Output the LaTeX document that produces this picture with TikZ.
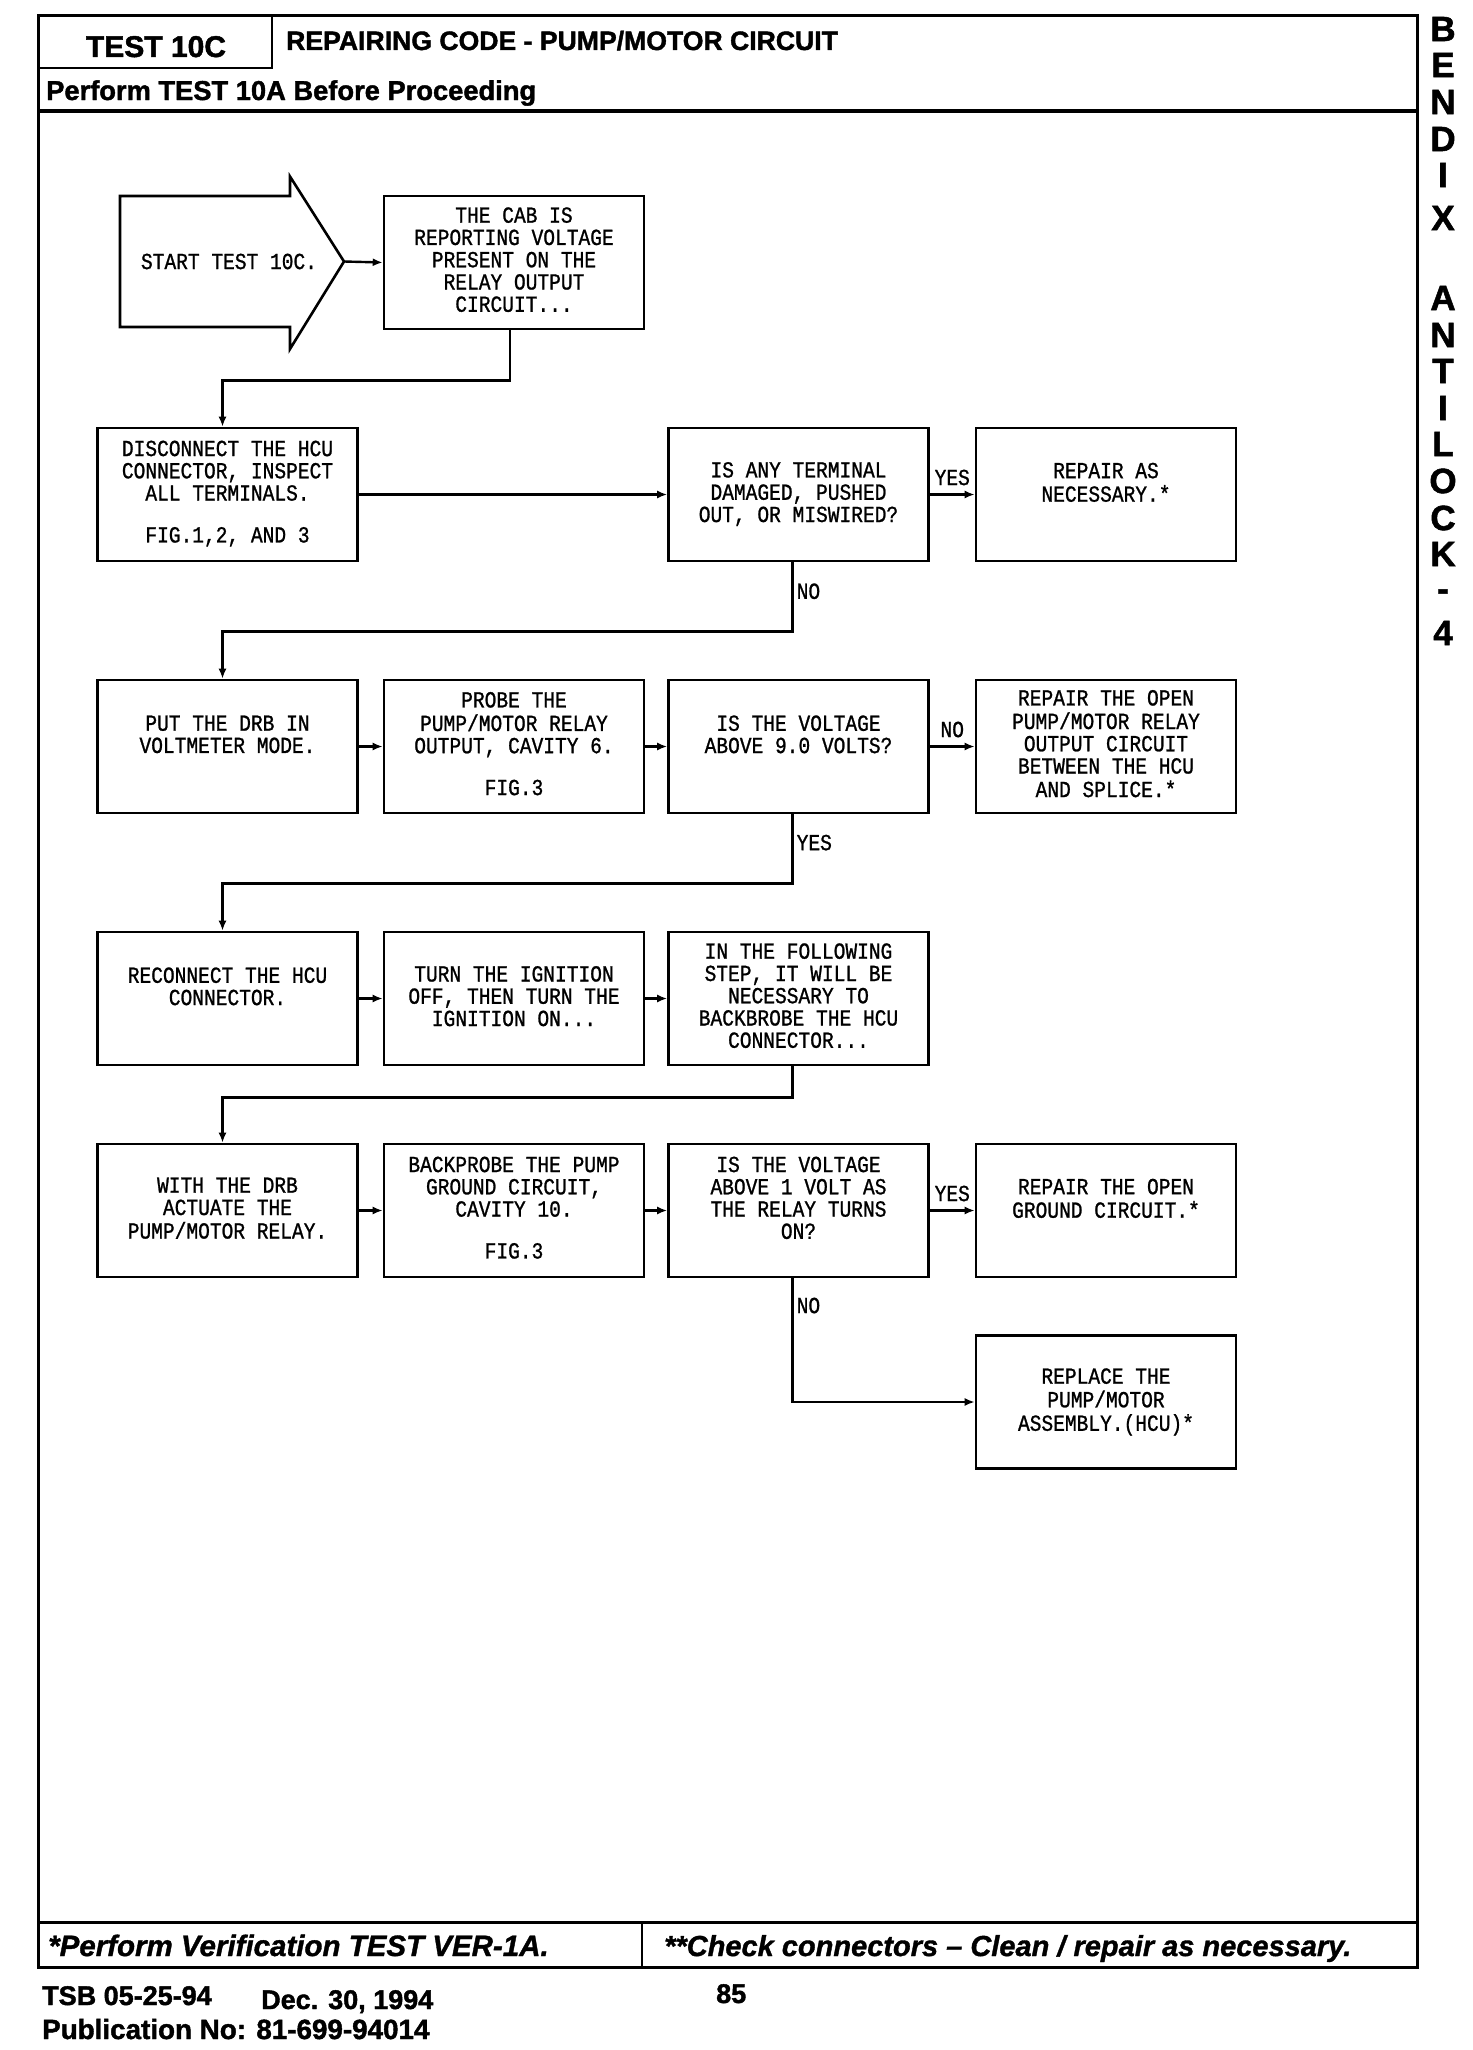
\documentclass[tikz,border=0pt]{standalone}
\usepackage{fontspec}
\setmainfont{Liberation Sans}
\newfontfamily\chartfont[FakeStretch=0.85,FakeBold=1]{Liberation Mono}
\newfontfamily\heavyfont[BoldFeatures={FakeBold=1.5},BoldItalicFeatures={FakeBold=1.2}]{Liberation Sans}
\usetikzlibrary{arrows.meta}
\begin{document}
\begin{tikzpicture}[x=1pt,y=-1pt,
  box/.style={draw, line width=2.6pt, minimum width=260pt, minimum height=133pt, inner sep=0pt, align=center, font=\chartfont\fontsize{23}{19.6}\selectfont},
  txt/.style={inner sep=0pt, align=center, font=\chartfont\fontsize{23}{19.6}\selectfont},
  lbl/.style={inner sep=3pt, font=\chartfont\fontsize{23}{19.6}\selectfont},
  arr/.style={line width=2.4pt, -{Latex[length=10pt,width=8pt]}},
  frameline/.style={line width=3pt},
  plain/.style={inner sep=0pt, anchor=base west},
  vlet/.style={inner sep=0pt, font=\heavyfont\bfseries\fontsize{35}{35}\selectfont},
]
\useasboundingbox (0,0) rectangle (1472,2050);
\fill[white] (0,0) rectangle (1472,2050);

% frame
\draw[frameline] (38,16) rectangle (1417,1967);
\draw[line width=3.5pt] (38,111) -- (1417,111);
\draw[line width=2.6pt] (272,16) -- (272,68) -- (38,68);
\draw[frameline] (38,1922) -- (1417,1922);
\draw[line width=2.6pt] (642,1922) -- (642,1967);

% header texts
\node[inner sep=0pt, anchor=base, font=\heavyfont\bfseries\fontsize{30}{30}\selectfont] (t10c) at (156,57) {TEST 10C};
\node[plain, font=\heavyfont\bfseries\fontsize{26.6}{26.6}\selectfont] (title) at (286,50) {REPAIRING CODE - PUMP/MOTOR CIRCUIT};
\node[plain, font=\heavyfont\bfseries\fontsize{27.3}{27.3}\selectfont] (pre) at (46,100) {Perform TEST 10A Before Proceeding};

% footer texts
\node[plain, font=\heavyfont\bfseries\itshape\fontsize{29.5}{29.5}\selectfont] (f1) at (48,1956) {*Perform Verification TEST VER-1A.};
\node[plain, font=\heavyfont\bfseries\itshape\fontsize{29}{29}\selectfont] (f2) at (664,1956) {**Check connectors – Clean / repair as necessary.};
\node[plain, font=\heavyfont\bfseries\fontsize{27}{27}\selectfont] (tsb) at (42,2005) {TSB 05-25-94};
\node[plain, font=\heavyfont\bfseries\fontsize{27}{27}\selectfont] (date) at (261,2009) {Dec. 30, 1994};
\node[plain, font=\heavyfont\bfseries\fontsize{27}{27}\selectfont] (page) at (716,2003) {85};
\node[plain, font=\heavyfont\bfseries\fontsize{27.8}{27.8}\selectfont] (pub) at (42,2039) {Publication No: 81-699-94014};

% vertical side title
\node[vlet] (v1) at (1443,29) {B};
\node[vlet] (v2) at (1443,65) {E};
\node[vlet] (v3) at (1443,102) {N};
\node[vlet] (v4) at (1443,139) {D};
\node[vlet] (v5) at (1443,175) {I};
\node[vlet] (v6) at (1443,218) {X};
\node[vlet] (v7) at (1443,298) {A};
\node[vlet] (v8) at (1443,335) {N};
\node[vlet] (v9) at (1443,371) {T};
\node[vlet] (v10) at (1443,408) {I};
\node[vlet] (v11) at (1443,444) {L};
\node[vlet] (v12) at (1443,481) {O};
\node[vlet] (v13) at (1443,518) {C};
\node[vlet] (v14) at (1443,554) {K};
\node[vlet] (v15) at (1443,595) {-};
\node[vlet] (v16) at (1443,633) {4};

% start arrow
\draw[line width=2.6pt, line join=miter] (120,196) -- (290,196) -- (290,176.5) -- (344,261.5) -- (290,349) -- (290,327) -- (120,327) -- cycle;
\node[txt] (start) at (229,261.5) {START TEST 10C.};
\coordinate (starttip) at (344,261.5);

% boxes
\node[box] (cab) at (514,262.5) {\strut THE CAB IS\\\strut REPORTING VOLTAGE\\\strut PRESENT ON THE\\\strut RELAY OUTPUT\\\strut CIRCUIT...};

\node[box] (disc) at (227.5,494.5) {\strut DISCONNECT THE HCU\\\strut CONNECTOR, INSPECT\\\strut ALL TERMINALS.\\\strut\\\strut FIG.1,2, AND 3};
\node[box] (isany) at (798.5,494.5) {\strut\\\strut IS ANY TERMINAL\\\strut DAMAGED, PUSHED\\\strut OUT, OR MISWIRED?\\\strut};
\node[box] (rep1) at (1106,494.5) {\strut\\\strut REPAIR AS\\\strut NECESSARY.*\\\strut\\\strut};

\node[box] (put) at (227.5,746.5) {\strut\\\strut PUT THE DRB IN\\\strut VOLTMETER MODE.\\\strut\\\strut};
\node[box] (probe) at (514,746.5) {\strut PROBE THE\\\strut PUMP/MOTOR RELAY\\\strut OUTPUT, CAVITY 6.\\\strut\\\strut FIG.3};
\node[box] (isvolt) at (798.5,746.5) {\strut\\\strut IS THE VOLTAGE\\\strut ABOVE 9.0 VOLTS?\\\strut\\\strut};
\node[box] (rep2) at (1106,746.5) {\strut REPAIR THE OPEN\\\strut PUMP/MOTOR RELAY\\\strut OUTPUT CIRCUIT\\\strut BETWEEN THE HCU\\\strut AND SPLICE.*};

\node[box] (recon) at (227.5,998.5) {\strut\\\strut RECONNECT THE HCU\\\strut CONNECTOR.\\\strut\\\strut};
\node[box] (turn) at (514,998.5) {\strut\\\strut TURN THE IGNITION\\\strut OFF, THEN TURN THE\\\strut IGNITION ON...\\\strut};
\node[box] (follow) at (798.5,998.5) {\strut IN THE FOLLOWING\\\strut STEP, IT WILL BE\\\strut NECESSARY TO\\\strut BACKBROBE THE HCU\\\strut CONNECTOR...};

\node[box] (with) at (227.5,1210.5) {\strut\\\strut WITH THE DRB\\\strut ACTUATE THE\\\strut PUMP/MOTOR RELAY.\\\strut};
\node[box] (backp) at (514,1210.5) {\strut BACKPROBE THE PUMP\\\strut GROUND CIRCUIT,\\\strut CAVITY 10.\\\strut\\\strut FIG.3};
\node[box] (isabove) at (798.5,1210.5) {\strut IS THE VOLTAGE\\\strut ABOVE 1 VOLT AS\\\strut THE RELAY TURNS\\\strut ON?\\\strut};
\node[box] (rep3) at (1106,1210.5) {\strut\\\strut REPAIR THE OPEN\\\strut GROUND CIRCUIT.*\\\strut\\\strut};

\node[box] (replace) at (1106,1402) {\strut\\\strut REPLACE THE\\\strut PUMP/MOTOR\\\strut ASSEMBLY.(HCU)*\\\strut};

% connectors
\draw[arr] (starttip) -- (cab.west);
\draw[arr] ([xshift=-4pt]cab.south) -- ++(0,50) -| ([xshift=-5pt]disc.north);
\draw[arr] (disc.east) -- (isany.west);
\draw[arr] (isany.east) -- node[lbl, anchor=south, yshift=5pt] (yes1) {YES} (rep1.west);
\draw[arr] ([xshift=-6pt]isany.south) -- ++(0,69) node[lbl, pos=0.42, anchor=west] (no1) {NO} -| ([xshift=-5pt]put.north);

\draw[arr] (put.east) -- (probe.west);
\draw[arr] (probe.east) -- (isvolt.west);
\draw[arr] (isvolt.east) -- node[lbl, anchor=south, yshift=5pt] (no2) {NO} (rep2.west);
\draw[arr] ([xshift=-6pt]isvolt.south) -- ++(0,69) node[lbl, pos=0.41, anchor=west] (yes2) {YES} -| ([xshift=-5pt]recon.north);

\draw[arr] (recon.east) -- (turn.west);
\draw[arr] (turn.east) -- (follow.west);
\draw[arr] ([xshift=-6pt]follow.south) -- ++(0,31) -| ([xshift=-5pt]with.north);

\draw[arr] (with.east) -- (backp.west);
\draw[arr] (backp.east) -- (isabove.west);
\draw[arr] (isabove.east) -- node[lbl, anchor=south, yshift=5pt] (yes3) {YES} (rep3.west);
\draw[arr] ([xshift=-6pt]isabove.south) |- node[lbl, pos=0.11, anchor=west] (no3) {NO} (replace.west);
\end{tikzpicture}
\end{document}
